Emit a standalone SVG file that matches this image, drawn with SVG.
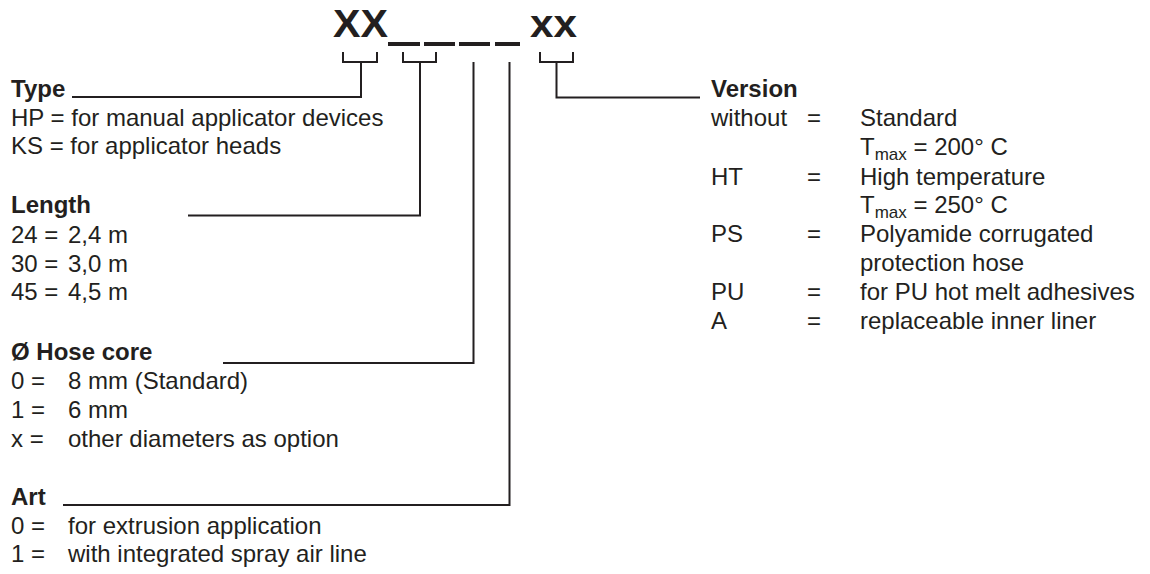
<svg xmlns="http://www.w3.org/2000/svg" width="1150" height="574" viewBox="0 0 1150 574">
<style>
text{font-family:"Liberation Sans",Arial,Helvetica,sans-serif;fill:#231f20;font-size:24px}
.b{font-weight:bold}
.code{font-weight:bold;font-size:39px}
.sub{font-size:17px}
.ln{fill:none;stroke:#231f20;stroke-width:2}
.blank{fill:#231f20}
</style>
<rect width="1150" height="574" fill="#fff"/>
<g id="code">
<text class="code" x="333" y="37" textLength="55" lengthAdjust="spacingAndGlyphs">XX</text>
<rect class="blank" x="388" y="42" width="32" height="4"/>
<rect class="blank" x="424" y="42" width="31" height="4"/>
<rect class="blank" x="459" y="42" width="31" height="4"/>
<rect class="blank" x="495" y="42" width="25" height="4"/>
<text class="code" x="530" y="37" textLength="47" lengthAdjust="spacingAndGlyphs">xx</text>
</g>
<g id="connectors">
<path class="ln" d="M343,52V62H377V52M361,62V97H72"/>
<path class="ln" d="M403,52V62H436V52M420,62V215.5H188"/>
<path class="ln" d="M473.5,62V363H223"/>
<path class="ln" d="M509.5,62V505H63"/>
<path class="ln" d="M540,52V62H573V52M556.5,62V97.5H700"/>
</g>
<g id="type">
<text class="b" x="11" y="97">Type</text>
<text x="11" y="125.5">HP = for manual applicator devices</text>
<text x="11" y="154">KS = for applicator heads</text>
</g>
<g id="length">
<text class="b" x="11" y="213">Length</text>
<text x="11" y="243">24 =</text><text x="68" y="243">2,4 m</text>
<text x="11" y="271.5">30 =</text><text x="68" y="271.5">3,0 m</text>
<text x="11" y="300">45 =</text><text x="68" y="300">4,5 m</text>
</g>
<g id="hose-core">
<text class="b" x="11" y="360">Ø Hose core</text>
<text x="11" y="389">0 =</text><text x="68" y="389">8 mm (Standard)</text>
<text x="11" y="418">1 =</text><text x="68" y="418">6 mm</text>
<text x="11" y="447">x =</text><text x="68" y="447">other diameters as option</text>
</g>
<g id="art">
<text class="b" x="11" y="505">Art</text>
<text x="11" y="534">0 =</text><text x="68" y="534">for extrusion application</text>
<text x="11" y="562">1 =</text><text x="68" y="562">with integrated spray air line</text>
</g>
<g id="version">
<text class="b" x="711" y="97">Version</text>
<text x="711" y="126">without</text><text x="807" y="126">=</text><text x="860" y="126">Standard</text>
<text x="860" y="154.5">T<tspan class="sub" dy="5">max</tspan><tspan dy="-5"> = 200° C</tspan></text>
<text x="711" y="184.5">HT</text><text x="807" y="184.5">=</text><text x="860" y="184.5">High temperature</text>
<text x="860" y="212.5">T<tspan class="sub" dy="5">max</tspan><tspan dy="-5"> = 250° C</tspan></text>
<text x="711" y="242">PS</text><text x="807" y="242">=</text><text x="860" y="242">Polyamide corrugated</text>
<text x="860" y="271">protection hose</text>
<text x="711" y="300">PU</text><text x="807" y="300">=</text><text x="860" y="300">for PU hot melt adhesives</text>
<text x="711" y="329">A</text><text x="807" y="329">=</text><text x="860" y="329">replaceable inner liner</text>
</g>
</svg>
